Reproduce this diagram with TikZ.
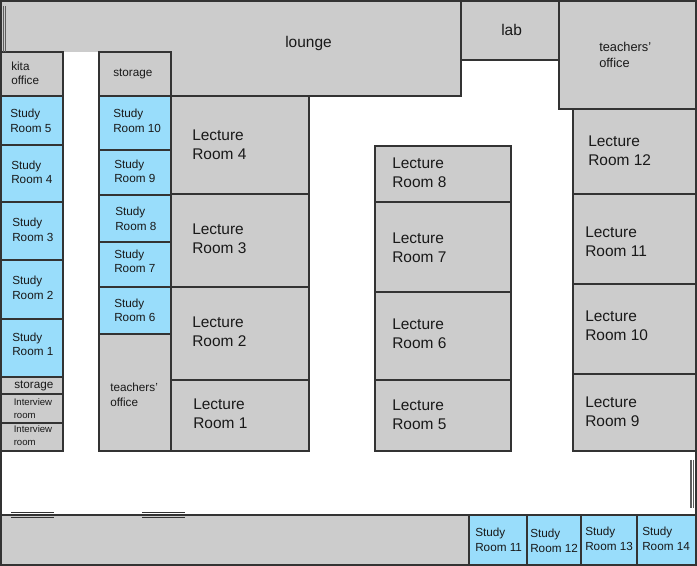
\documentclass[tikz,border=0pt]{standalone}
\usepackage{fontspec}
\setmainfont{Liberation Sans}
\definecolor{roomgrey}{HTML}{CCCCCC}
\definecolor{studyblue}{HTML}{99DDFB}
\definecolor{wall}{HTML}{333333}
\newcommand{\roomat}[5]{%
  \fill[#5] (#1,#2) rectangle (#3,#4);
  \draw[wallline] (#1,#2) rectangle (#3,#4);
}
\tikzset{
  wallline/.style={draw=wall,line width=1.35pt,line join=miter},
  doorline/.style={draw=wall,line width=0.6pt},
  doorthick/.style={draw=wall!80,line width=0.9pt},
  lbl/.style={align=left,anchor=west,inner sep=0pt,text=black!90},
  big/.style={lbl,font=\fontsize{11.6}{14}\selectfont},
  mid/.style={lbl,font=\fontsize{8.8}{10.9}\selectfont},
  tiny/.style={lbl,font=\fontsize{7.2}{10.2}\selectfont},
  gr/.style={fill=roomgrey},
  bl/.style={fill=studyblue}
}
\begin{document}
\begin{tikzpicture}[x=0.75pt,y=-0.75pt]
\useasboundingbox (0,0) rectangle (697,566);
\fill[white] (0,0) rectangle (697,566);
% lounge
\fill[gr] (1,1) -- (461,1) -- (461,96) -- (171,96) -- (171,52) -- (1,52) -- cycle;
\draw[wallline] (1,52) -- (1,1) -- (461,1) -- (461,96) -- (171,96);
% top right
\roomat{461}{1}{559}{60}{gr}
\roomat{559}{1}{696}{109}{gr}
% left column
\roomat{1}{52}{63}{96}{gr}
\roomat{1}{96}{63}{145}{bl}
\roomat{1}{145}{63}{202}{bl}
\roomat{1}{202}{63}{260}{bl}
\roomat{1}{260}{63}{319}{bl}
\roomat{1}{319}{63}{377}{bl}
\roomat{1}{377}{63}{394}{gr}
\roomat{1}{394}{63}{423}{gr}
\roomat{1}{423}{63}{451}{gr}
% second column
\roomat{99}{52}{171}{96}{gr}
\roomat{99}{96}{171}{150}{bl}
\roomat{99}{150}{171}{195}{bl}
\roomat{99}{195}{171}{242}{bl}
\roomat{99}{242}{171}{287}{bl}
\roomat{99}{287}{171}{334}{bl}
\roomat{99}{334}{171}{451}{gr}
% lectures 1-4
\roomat{171}{96}{309}{194}{gr}
\roomat{171}{194}{309}{287}{gr}
\roomat{171}{287}{309}{380}{gr}
\roomat{171}{380}{309}{451}{gr}
% lectures 5-8
\roomat{375}{146}{511}{202}{gr}
\roomat{375}{202}{511}{292}{gr}
\roomat{375}{292}{511}{380}{gr}
\roomat{375}{380}{511}{451}{gr}
% lectures 9-12
\roomat{573}{109}{696}{194}{gr}
\roomat{573}{194}{696}{284}{gr}
\roomat{573}{284}{696}{374}{gr}
\roomat{573}{374}{696}{451}{gr}
% bottom
\roomat{1}{515}{469}{565}{gr}
\roomat{469}{515}{527}{565}{bl}
\roomat{527}{515}{581}{565}{bl}
\roomat{581}{515}{637}{565}{bl}
\roomat{637}{515}{696}{565}{bl}
% outer walls
\draw[wallline] (1,52) -- (1,565);
\draw[wallline] (696,1) -- (696,565);
% door marks
\draw[doorthick] (3.5,6) -- (3.5,52) (5.8,6) -- (5.8,52);
\draw[doorthick] (691,460) -- (691,508) (693.2,460) -- (693.2,508);
\draw[doorline] (11,512.5) -- (54,512.5) (11,517) -- (54,517);
\draw[doorline] (142,512.5) -- (185,512.5) (142,517) -- (185,517);
% labels
\node[big] (lounge) at (285,44) {lounge};
\node[big] (lab) at (501,30) {lab};
\node[mid,font=\fontsize{9.6}{12}\selectfont] (toa) at (599,54.5) {teachers’\\office};
\node[mid] (kita) at (11,73.5) {kita\\office};
\node[mid] (s5) at (10,121) {Study\\Room 5};
\node[mid] (s4) at (11,172.5) {Study\\Room 4};
\node[mid] (s3) at (12,230) {Study\\Room 3};
\node[mid] (s2) at (12,288) {Study\\Room 2};
\node[mid] (s1) at (12,344.5) {Study\\Room 1};
\node[mid] (st1) at (14,386) {storage};
\node[tiny] (i1) at (13.5,408.5) {Interview\\room};
\node[tiny] (i2) at (13.5,435.5) {Interview\\room};
\node[mid] (st2) at (113,73.5) {storage};
\node[mid] (s10) at (113,121) {Study\\Room 10};
\node[mid] (s9) at (114,171.5) {Study\\Room 9};
\node[mid] (s8) at (115,219) {Study\\Room 8};
\node[mid] (s7) at (114,261.5) {Study\\Room 7};
\node[mid] (s6) at (114,310.5) {Study\\Room 6};
\node[mid] (tob) at (110,395) {teachers’\\office};
\node[big] (l4) at (192,145) {Lecture\\Room 4};
\node[big] (l3) at (192,239) {Lecture\\Room 3};
\node[big] (l2) at (192,332) {Lecture\\Room 2};
\node[big] (l1) at (193,413.5) {Lecture\\Room 1};
\node[big] (l8) at (392,173) {Lecture\\Room 8};
\node[big] (l7) at (392,247.5) {Lecture\\Room 7};
\node[big] (l6) at (392,333.5) {Lecture\\Room 6};
\node[big] (l5) at (392,414.5) {Lecture\\Room 5};
\node[big] (l12) at (588,151) {Lecture\\Room 12};
\node[big] (l11) at (585,242) {Lecture\\Room 11};
\node[big] (l10) at (585,326) {Lecture\\Room 10};
\node[big] (l9) at (585,412) {Lecture\\Room 9};
\node[mid] (s11) at (475,540) {Study\\Room 11};
\node[mid] (s12) at (530,541) {Study\\Room 12};
\node[mid] (s13) at (585,539) {Study\\Room 13};
\node[mid] (s14) at (642,539) {Study\\Room 14};
\end{tikzpicture}
\end{document}
